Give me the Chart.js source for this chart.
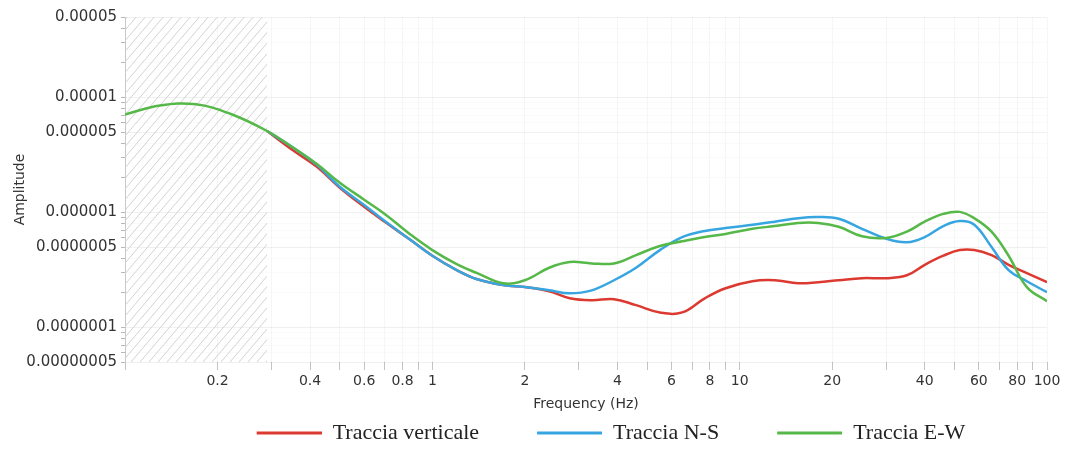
<!DOCTYPE html>
<html>
<head>
<meta charset="utf-8">
<script src="https://cdn.jsdelivr.net/npm/chart.js@4/dist/chart.umd.min.js"></script>
<style>
  html, body { margin: 0; padding: 0; background: #fff; }
</style>
</head>
<body>
<canvas id="myChart" width="1066" height="449"></canvas>
<script>
// frequencies (Hz) and amplitudes
var freq = [0.1, 0.13, 0.17, 0.22, 0.29, 0.35, 0.42, 0.5, 0.6, 0.7, 0.85, 1, 1.2, 1.4, 1.7, 2, 2.4, 2.8, 3.3, 3.9,
            4.6, 5.5, 6.5, 7.7, 9, 11, 13, 15.5, 18, 21, 25, 30, 35, 40, 46, 52, 58, 66, 75, 86, 100]

var verticale = [null, null, null, null, 5.1e-6, 3.5e-6, 2.5e-6, 1.64e-6, 1.12e-6, 8.3e-7, 5.75e-7, 4.2e-7, 3.15e-7,
                 2.62e-7, 2.33e-7, 2.24e-7, 2.06e-7, 1.79e-7, 1.72e-7, 1.76e-7, 1.56e-7, 1.35e-7, 1.35e-7, 1.79e-7,
                 2.19e-7, 2.52e-7, 2.57e-7, 2.42e-7, 2.47e-7, 2.57e-7, 2.68e-7, 2.68e-7, 2.84e-7, 3.5e-7, 4.2e-7,
                 4.7e-7, 4.7e-7, 4.25e-7, 3.5e-7, 2.96e-7, 2.47e-7]

var nordSud = [null, null, null, null, 5.1e-6, 3.7e-6, 2.6e-6, 1.67e-6, 1.16e-6, 8.4e-7, 5.75e-7, 4.2e-7, 3.15e-7,
               2.62e-7, 2.33e-7, 2.24e-7, 2.1e-7, 1.98e-7, 2.1e-7, 2.57e-7, 3.3e-7, 4.7e-7, 6.1e-7, 6.9e-7,
               7.3e-7, 7.8e-7, 8.3e-7, 8.9e-7, 9.1e-7, 8.8e-7, 7.2e-7, 5.9e-7, 5.5e-7, 6.1e-7, 7.6e-7,
               8.4e-7, 7.8e-7, 5.0e-7, 3.15e-7, 2.52e-7, 2.02e-7]

var estOvest = [7.1e-6, 8.5e-6, 8.7e-6, 7.2e-6, 5.1e-6, 3.7e-6, 2.65e-6, 1.81e-6, 1.29e-6, 9.7e-7, 6.4e-7, 4.7e-7,
                3.55e-7, 2.96e-7, 2.42e-7, 2.57e-7, 3.3e-7, 3.7e-7, 3.6e-7, 3.6e-7, 4.25e-7, 5.1e-7, 5.6e-7, 6.1e-7,
                6.5e-7, 7.2e-7, 7.6e-7, 8.1e-7, 8.1e-7, 7.5e-7, 6.2e-7, 6.0e-7, 6.8e-7, 8.3e-7, 9.7e-7, 1.01e-6,
                8.9e-7, 6.8e-7, 4.2e-7, 2.24e-7, 1.69e-7]

var seriesNames = ['Traccia verticale', 'Traccia N-S', 'Traccia E-W']
var seriesColors = ['#dc3a30', '#37a6e0', '#56b848']

var xLabels = [0.2, 0.4, 0.6, 0.8, 1, 2, 4, 6, 8, 10, 20, 40, 60, 80, 100]
var yTickValues = [5e-5, 1e-5, 5e-6, 1e-6, 5e-7, 1e-7, 5e-8]
var yTickLabels = ['0.00005', '0.00001', '0.000005', '0.000001', '0.0000005', '0.0000001', '0.00000005']
var hatchEnd = 0.29

// legend swatch: empty lead-in then a 65px line
var swatchLead = 50
var swatchLine = 65

function points(values) {
    let pts = []
    for (let i = 0; i < freq.length; i++) {
        if (values[i] !== null) pts.push({x: freq[i], y: values[i]})
    }
    return pts
}

function sameLog(a, b) {
    return Math.abs(Math.log10(a) - Math.log10(b)) < 1e-6
}

// all 1..9 x 10^n steps between two powers of ten
function minorSteps(fromExp, toExp) {
    let out = []
    for (let e = fromExp; e <= toExp; e++) {
        for (let m = 1; m < 10; m++) out.push(m * Math.pow(10, e))
    }
    return out
}

function legendSwatch(color) {
    let c = document.createElement('canvas')
    c.width = swatchLead + swatchLine
    c.height = 4
    let g = c.getContext('2d')
    g.fillStyle = color
    g.fillRect(swatchLead, 0.5, swatchLine, 3)
    return c
}

var hatchPlugin = {
    id: 'hatch',
    beforeDatasetsDraw(chart) {
        const {ctx, chartArea, scales} = chart
        const x1 = scales.x.getPixelForValue(hatchEnd)
        const h = chartArea.bottom - chartArea.top
        ctx.save()
        ctx.beginPath()
        ctx.rect(chartArea.left, chartArea.top, x1 - chartArea.left, h)
        ctx.clip()
        ctx.strokeStyle = '#d2d2d2'
        ctx.lineWidth = 1
        for (let x = chartArea.left - h; x < x1; x += 9) {
            ctx.beginPath()
            ctx.moveTo(x, chartArea.bottom)
            ctx.lineTo(x + h * 0.85, chartArea.top)
            ctx.stroke()
        }
        ctx.restore()
    }
}

var ctx = document.getElementById('myChart').getContext('2d')

var chart = new Chart(ctx, {
    type: 'line',
    data: {
        datasets: [verticale, nordSud, estOvest].map(function(values, i) {
            return {
                label: seriesNames[i],
                data: points(values),
                borderColor: seriesColors[i],
                backgroundColor: seriesColors[i],
                borderWidth: 2.5,
                pointRadius: 0,
                fill: false,
                tension: 0.4,
                order: 2 - i
            }
        })
    },
    options: {
        responsive: false,
        animation: false,
        layout: { padding: { left: 0, right: 19, top: 17, bottom: 0 } },
        plugins: {
            tooltip: { enabled: false },
            legend: {
                position: 'bottom',
                fullSize: false,
                maxHeight: 35,
                labels: {
                    usePointStyle: true,
                    pointStyleWidth: swatchLead + swatchLine,
                    padding: 8,
                    color: '#222',
                    font: { family: 'Liberation Serif', size: 22 },
                    sort: (a, b) => a.datasetIndex - b.datasetIndex,
                    generateLabels: function(chart) {
                        let items = Chart.defaults.plugins.legend.labels.generateLabels(chart)
                        items.forEach(function(item) {
                            item.pointStyle = legendSwatch(seriesColors[item.datasetIndex])
                        })
                        return items
                    }
                }
            }
        },
        scales: {
            x: {
                type: 'logarithmic',
                min: 0.1,
                max: 100,
                afterBuildTicks: function(scale) {
                    scale.ticks = minorSteps(-1, 1).concat([100]).map(v => ({value: v}))
                },
                afterFit: function(scale) { scale.height = 52 },
                ticks: {
                    autoSkip: false,
                    maxRotation: 0,
                    padding: 3,
                    color: '#333',
                    font: { family: 'DejaVu Sans', size: 14 },
                    callback: function(value) {
                        for (let l of xLabels) if (sameLog(l, value)) return String(l)
                        return ''
                    }
                },
                grid: { color: 'rgba(0,0,0,0.035)', tickColor: '#c4c4c4', tickLength: 8 },
                border: { display: false },
                title: {
                    display: true,
                    text: 'Frequency (Hz)',
                    color: '#333',
                    font: { family: 'DejaVu Sans', size: 14 },
                    padding: { top: 2, bottom: 1 }
                }
            },
            y: {
                type: 'logarithmic',
                min: 5e-8,
                max: 5e-5,
                afterBuildTicks: function(scale) {
                    scale.ticks = minorSteps(-8, -5).filter(v => v >= 5e-8 * 0.999 && v <= 5e-5 * 1.001).map(v => ({value: v}))
                },
                afterFit: function(scale) { scale.width = 125 },
                ticks: {
                    autoSkip: false,
                    padding: 4,
                    color: '#333',
                    font: { family: 'DejaVu Sans', size: 15 },
                    callback: function(value) {
                        for (let i = 0; i < yTickValues.length; i++) if (sameLog(yTickValues[i], value)) return yTickLabels[i]
                        return ''
                    }
                },
                grid: {
                    color: function(c) {
                        return c.tick && yTickValues.some(v => sameLog(v, c.tick.value)) ? 'rgba(0,0,0,0.06)' : 'rgba(0,0,0,0.02)'
                    },
                    tickColor: '#b8b8b8',
                    tickLength: 4
                },
                border: { color: '#c8c8c8' },
                title: {
                    display: true,
                    text: 'Amplitude',
                    color: '#333',
                    font: { family: 'DejaVu Sans', size: 14 },
                    padding: { top: 12, bottom: 0 }
                }
            }
        }
    },
    plugins: [hatchPlugin]
})
</script>
</body>
</html>
